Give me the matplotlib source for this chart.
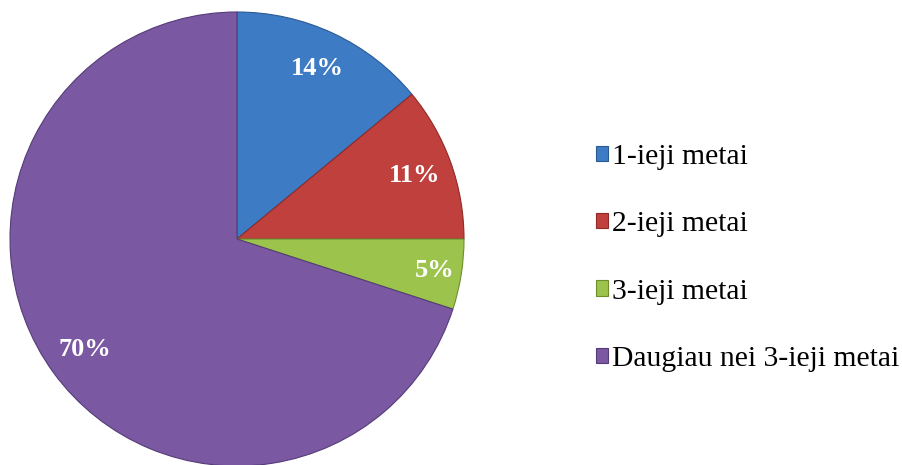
import matplotlib
matplotlib.use("Agg")
import matplotlib.pyplot as plt
import numpy as np
from matplotlib.patches import Patch

categories = ["1-ieji metai", "2-ieji metai", "3-ieji metai", "Daugiau nei 3-ieji metai"]
values = [14, 11, 5, 70]
colors = ["#3D7BC4", "#C0403D", "#9CC34B", "#7A58A2"]
edges = ["#2A5A94", "#8E2B29", "#6E8E30", "#553C78"]
label_dist = [0.83, 0.83, 0.88, 0.83]

W, H = 902, 465
fig = plt.figure(figsize=(W / 100, H / 100), dpi=100)
fig.patch.set_facecolor("white")

cx, cy, R = 237, 239, 227
ax = fig.add_axes([(cx - R) / W, (H - cy - R) / H, 2 * R / W, 2 * R / H])
wedges, texts, autotexts = ax.pie(
    values, colors=colors, startangle=90, counterclock=False, radius=1,
    autopct=lambda p: f"{p:.0f}%", pctdistance=0.84,
    textprops=dict(color="white", fontsize=19, fontweight="bold",
                   family="Liberation Serif"),
)
for w, e, t, d in zip(wedges, edges, autotexts, label_dist):
    w.set_edgecolor(e)
    w.set_linewidth(0.8)
    w.set_clip_on(False)
    ang = np.deg2rad((w.theta1 + w.theta2) / 2)
    t.set_position((d * np.cos(ang), d * np.sin(ang)))
ax.set_xlim(-1, 1)
ax.set_ylim(-1, 1)
ax.set_aspect("equal")
ax.axis("off")

handles = [Patch(facecolor=c, edgecolor=e, linewidth=0.8) for c, e in zip(colors, edges)]
leg = fig.legend(handles, categories, loc="center left",
                 bbox_to_anchor=(596 / W, 1 - 258 / H),
                 frameon=False, borderpad=0, borderaxespad=0,
                 prop=dict(family="Liberation Serif", size=21.3),
                 handlelength=0.41, handleheight=0.41, handletextpad=0.12,
                 labelspacing=1.39)

fig.savefig("out.png", dpi=100)
